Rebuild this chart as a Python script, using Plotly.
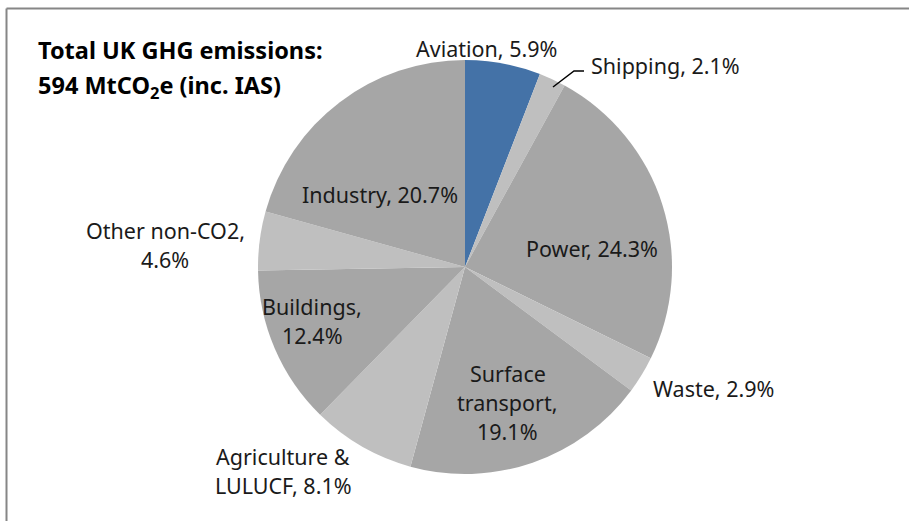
import plotly.graph_objects as go

# ---- data ----
sectors = ["Aviation", "Shipping", "Power", "Waste", "Surface transport",
           "Agriculture & LULUCF", "Buildings", "Other non-CO2", "Industry"]
shares = [5.9, 2.1, 24.3, 2.9, 19.1, 8.1, 12.4, 4.6, 20.7]
label_lines = [["Aviation, 5.9%"], ["Shipping, 2.1%"], ["Power, 24.3%"], ["Waste, 2.9%"],
               ["Surface", "transport,", "19.1%"], ["Agriculture &", "LULUCF, 8.1%"],
               ["Buildings,", "12.4%"], ["Other non-CO2,", "4.6%"], ["Industry, 20.7%"]]
title_lines = ["Total UK GHG emissions:", "594 MtCO<sub>2</sub>e (inc. IAS)"]

# ---- style ----
W, H = 909, 521
BLUE, DARK, LIGHT = "#4472A7", "#A6A6A6", "#BFBFBF"
colors = [BLUE, LIGHT, DARK, LIGHT, DARK, LIGHT, DARK, LIGHT, DARK]
# centre of first line of each label (pixels)
label_px = [(486, 48), (665, 65), (592, 248), (713, 388), (508, 373),
            (283, 456), (312, 306), (165, 230), (380, 195)]
LINE_GAP = 29

def px(x, y):
    return x / W, 1 - y / H

cx, cy, r = 465, 267, 207
fig = go.Figure(go.Pie(
    labels=sectors, values=shares, sort=False, direction="clockwise",
    rotation=0, marker=dict(colors=colors, line=dict(width=0)),
    textinfo="none", hoverinfo="label+percent", showlegend=False,
    domain=dict(x=[(cx - r) / W, (cx + r) / W],
                y=[1 - (cy + r) / H, 1 - (cy - r) / H]),
))

font = dict(family="Noto Sans, sans-serif", size=21.5, color="#1a1a1a")
ann = []
for lines, (x, y) in zip(label_lines, label_px):
    for i, txt in enumerate(lines):
        xp, yp = px(x, y + i * LINE_GAP)
        ann.append(dict(text=txt, x=xp, y=yp, xref="paper", yref="paper",
                        showarrow=False, font=font, xanchor="center", yanchor="middle"))
for i, t in enumerate(title_lines):
    xp, yp = px(36, 50 + i * 36)
    ann.append(dict(text="<b>" + t + "</b>", x=xp, y=yp, xref="paper", yref="paper",
                    showarrow=False, xanchor="left", yanchor="middle",
                    font=dict(family="Noto Sans, sans-serif", size=23.5, color="#000000")))

shapes = []
x0, y0 = px(6.5, 8.5)
shapes.append(dict(type="line", xref="paper", yref="paper", x0=x0, y0=y0, x1=1.0, y1=y0,
                   line=dict(color="#868686", width=2)))
shapes.append(dict(type="line", xref="paper", yref="paper", x0=x0, y0=y0, x1=x0, y1=0,
                   line=dict(color="#868686", width=2)))
a = px(553, 87); b = px(574, 71); c = px(584, 71)
shapes.append(dict(type="path", xref="paper", yref="paper",
                   path=f"M {a[0]},{a[1]} L {b[0]},{b[1]} L {c[0]},{c[1]}",
                   line=dict(color="#000000", width=1.5)))

fig.update_layout(width=W, height=H, margin=dict(l=0, r=0, t=0, b=0),
                  paper_bgcolor="white", plot_bgcolor="white",
                  annotations=ann, shapes=shapes)
fig.write_html("out.html", config={"displayModeBar": False},
               post_script="document.body.style.margin='0px';")
